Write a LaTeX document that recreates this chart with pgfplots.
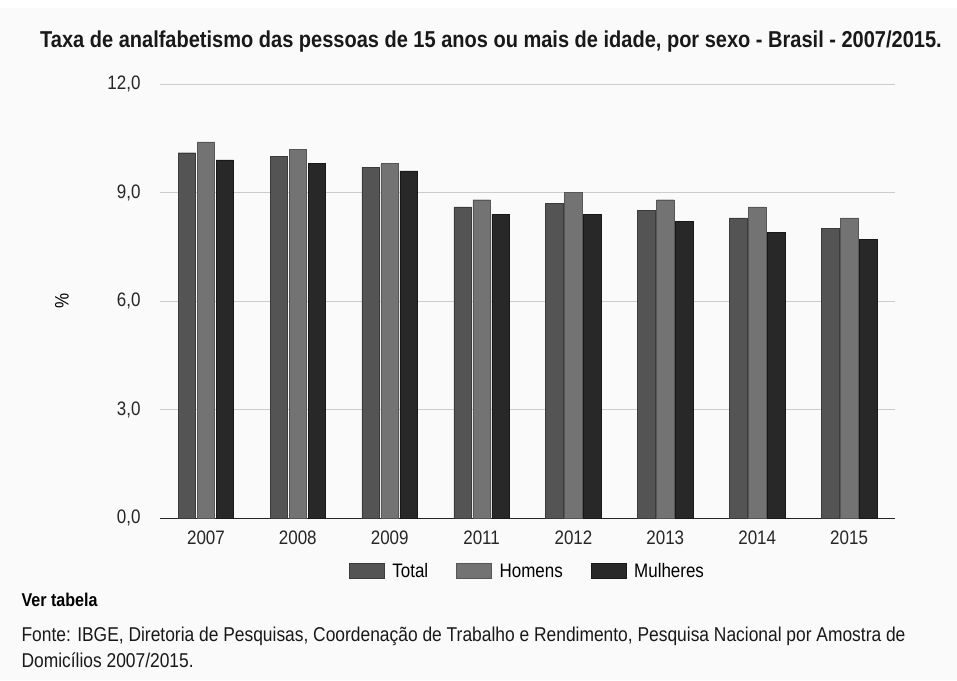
\documentclass[border=0pt]{standalone}
\usepackage{pgfplots}
\pgfplotsset{compat=1.18}
\usepackage{fontspec}
\setmainfont[FakeStretch=0.87]{Liberation Sans}
\definecolor{bg}{HTML}{FAFAFA}
\definecolor{ctotal}{HTML}{545454}
\definecolor{chom}{HTML}{737373}
\definecolor{cmul}{HTML}{282828}
\definecolor{grid}{HTML}{CCCCCC}
\begin{document}
\begin{tikzpicture}[x=1pt,y=1pt]
\fill[bg] (0,0) rectangle (957,680);
\fill[white] (0,672) rectangle (957,680);
\node[font=\fontsize{23}{26}\selectfont\bfseries, anchor=center, text=black!90] at (491,638) {Taxa de analfabetismo das pessoas de 15 anos ou mais de idade, por sexo - Brasil - 2007/2015.};
\begin{axis}[
  at={(160pt,162pt)}, anchor=south west,
  scale only axis, width=735pt, height=434pt,
  ybar=1.5pt, bar width=17.5pt,
  xmin=-0.5, xmax=7.5, ymin=0, ymax=12,
  xtick={0,1,2,3,4,5,6,7},
  xticklabels={2007,2008,2009,2011,2012,2013,2014,2015},
  ytick={0,3,6,9,12},
  major tick length=0pt,
  axis line style={draw=none},
  axis x line*=bottom,
  ymajorgrids, grid style={draw=grid, line width=0.9pt},
  tick label style={font=\fontsize{19.5}{22}\selectfont, text=black!85},
  yticklabel style={xshift=-16pt},
  xticklabel style={yshift=-9pt},
  /pgf/number format/.cd, use comma, fixed, fixed zerofill, precision=1, assume math mode=true,
  /pgfplots/.cd,
  ylabel={\%},
  ylabel style={at={(axis description cs:-0.1333,0.5)}, anchor=center, font=\fontsize{19.5}{22}\selectfont},
  legend style={at={(0.5,0)}, anchor=north, yshift=-43pt, draw=none, fill=none,
    legend columns=3, font=\fontsize{19.5}{22}\selectfont,
    nodes={text height=10pt, text depth=4pt},
    /tikz/every odd column/.append style={column sep=6pt},
    /tikz/every even column/.append style={column sep=26pt}},
  legend image code/.code={\draw[#1] (0pt,-3.5pt) rectangle (35pt,11.5pt);},
  legend cell align=left,
  clip=false,
]
\draw[black!85, line width=1pt] (axis cs:-0.5,0) -- (axis cs:7.5,0);
\addplot[fill=ctotal, draw=ctotal!70!black] coordinates {(0,10.1) (1,10.0) (2,9.7) (3,8.6) (4,8.7) (5,8.5) (6,8.3) (7,8.0)};
\addplot[fill=chom, draw=chom!75!black] coordinates {(0,10.4) (1,10.2) (2,9.8) (3,8.8) (4,9.0) (5,8.8) (6,8.6) (7,8.3)};
\addplot[fill=cmul, draw=cmul!60!black] coordinates {(0,9.9) (1,9.8) (2,9.6) (3,8.4) (4,8.4) (5,8.2) (6,7.9) (7,7.7)};
\legend{Total,Homens,Mulheres}
\end{axis}
\node[font=\fontsize{18.5}{21}\selectfont\bfseries, anchor=west] at (18,80) {Ver tabela};
\node[font=\fontsize{20}{22}\selectfont, anchor=west, text=black!90] at (18,44) {Fonte: IBGE, Diretoria de Pesquisas, Coordenação de Trabalho e Rendimento, Pesquisa Nacional por Amostra de};
\node[font=\fontsize{20}{22}\selectfont, anchor=west, text=black!90] at (18,20) {Domicílios 2007/2015.};
\end{tikzpicture}
\end{document}
